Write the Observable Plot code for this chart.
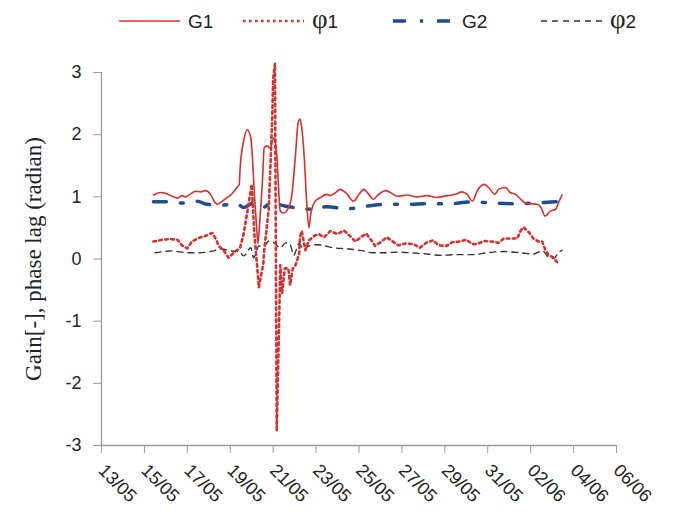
<!DOCTYPE html>
<html>
<head>
<meta charset="utf-8">
<script src="https://cdn.jsdelivr.net/npm/d3@7"></script>
<script src="https://cdn.jsdelivr.net/npm/@observablehq/plot@0.6"></script>
<style>
  html, body { margin: 0; padding: 0; background: #fff; }
  #wrap { width: 681px; height: 518px; position: relative; overflow: hidden; }
  #legend { width: 681px; height: 45px; position: relative; }
  #legend svg { position: absolute; left: 0; top: 0; }
</style>
</head>
<body>
<div id="wrap">
  <div id="legend"></div>
  <div id="chart"></div>
</div>
<script>
// ---- data (time stamps "MM-DD HH", year 2013) ----
const g1Times = ["05-15 10","05-15 18","05-16 01","05-16 07","05-16 13","05-16 18","05-16 22","05-17 03","05-17 09","05-17 15","05-17 20","05-18 02","05-18 06","05-18 10","05-18 15","05-18 21","05-19 02","05-19 08","05-19 10","05-19 11","05-19 15","05-19 19","05-19 23","05-20 01","05-20 03","05-20 05","05-20 07","05-20 09","05-20 12","05-20 14","05-20 17","05-20 21","05-20 23","05-21 01","05-21 04","05-21 06","05-21 08","05-21 12","05-21 17","05-21 21","05-22 01","05-22 04","05-22 06","05-22 08","05-22 11","05-22 13","05-22 16","05-22 18","05-22 23","05-23 05","05-23 12","05-23 16","05-23 22","05-24 03","05-24 09","05-24 18","05-25 00","05-25 05","05-25 11","05-25 16","05-25 22","05-26 06","05-26 11","05-26 19","05-27 06","05-27 17","05-28 04","05-28 15","05-29 03","05-29 12","05-29 19","05-30 01","05-30 07","05-30 12","05-30 20","05-31 01","05-31 08","05-31 12","05-31 20","06-01 01","06-01 07","06-01 13","06-01 18","06-02 00","06-02 07","06-02 12","06-02 16","06-02 22","06-03 04","06-03 07","06-03 11"];
const g1Values = [1.03,1.07,1.05,1.01,0.98,1.02,1.00,1.04,1.09,1.08,1.10,1.04,0.93,0.88,0.93,0.99,1.05,1.16,1.20,1.45,1.90,2.08,1.95,1.58,1.04,0.61,0.25,0.61,1.25,1.79,1.82,1.78,1.90,1.95,1.68,1.15,0.77,0.74,0.82,1.04,1.68,2.20,2.25,2.11,1.58,1.04,0.50,0.72,0.93,0.99,1.04,1.02,1.07,1.12,1.07,0.93,1.04,1.12,1.04,0.96,1.04,1.10,1.07,1.01,1.03,1.00,1.02,0.99,1.02,1.04,1.08,1.04,0.93,1.09,1.20,1.15,1.04,1.12,1.15,1.07,1.04,0.96,0.90,0.89,0.88,0.82,0.69,0.77,0.80,0.90,1.03];

const phi1Times = ["05-15 10","05-15 20","05-16 05","05-16 13","05-16 18","05-17 00","05-17 05","05-17 13","05-17 20","05-18 04","05-18 08","05-18 11","05-18 17","05-18 22","05-19 04","05-19 11","05-19 15","05-19 19","05-20 00","05-20 03","05-20 06","05-20 08","05-20 10","05-20 13","05-20 14","05-20 16","05-20 19","05-20 21","05-20 23","05-21 00","05-21 02","05-21 04","05-21 08","05-21 10","05-21 13","05-21 17","05-21 19","05-21 22","05-22 01","05-22 05","05-22 06","05-22 08","05-22 12","05-22 16","05-22 23","05-23 03","05-23 09","05-23 16","05-24 00","05-24 07","05-24 14","05-24 20","05-25 02","05-25 08","05-25 14","05-25 18","05-26 01","05-26 07","05-26 13","05-26 20","05-27 04","05-27 13","05-27 20","05-28 03","05-28 11","05-28 17","05-29 02","05-29 08","05-29 16","05-30 00","05-30 07","05-30 12","05-30 20","05-31 05","05-31 12","05-31 18","06-01 01","06-01 09","06-01 13","06-01 16","06-01 22","06-02 03","06-02 09","06-02 13","06-02 16","06-02 20","06-03 02","06-03 07"];
const phi1Values = [0.28,0.31,0.32,0.31,0.22,0.17,0.28,0.34,0.37,0.42,0.32,0.21,0.13,0.02,0.10,0.18,0.40,0.75,1.20,0.40,-0.10,-0.46,-0.30,-0.08,0.15,0.40,0.80,1.50,2.30,2.90,3.14,-2.77,-0.10,-0.55,-0.15,-0.15,-0.42,-0.15,-0.10,0.08,0.35,0.45,0.14,0.30,0.38,0.40,0.35,0.45,0.40,0.46,0.37,0.28,0.35,0.41,0.30,0.21,0.28,0.35,0.29,0.22,0.25,0.24,0.18,0.26,0.30,0.22,0.21,0.27,0.28,0.31,0.24,0.24,0.29,0.28,0.26,0.33,0.33,0.33,0.46,0.51,0.43,0.33,0.28,0.28,0.16,0.06,0.02,-0.08];

const g2Times = ["05-15 10","05-16 02","05-16 16","05-17 11","05-17 22","05-18 15","05-19 08","05-19 15","05-20 02","05-20 13","05-20 21","05-21 14","05-22 03","05-22 12","05-23 12","05-24 11","05-25 09","05-26 06","05-27 06","05-28 06","05-29 06","05-30 05","05-31 05","06-01 05","06-02 05","06-03 06","06-03 11"];
const g2Values = [0.92,0.92,0.90,0.93,0.88,0.87,0.88,0.83,0.90,0.83,0.90,0.85,0.82,0.80,0.84,0.81,0.85,0.88,0.88,0.89,0.89,0.92,0.90,0.89,0.90,0.92,0.92];

const phi2Times = ["05-15 12","05-16 07","05-17 00","05-17 13","05-18 02","05-18 15","05-19 00","05-19 10","05-19 15","05-19 23","05-20 02","05-20 08","05-20 14","05-20 19","05-21 01","05-21 08","05-21 14","05-21 19","05-21 23","05-22 05","05-22 10","05-22 16","05-23 01","05-23 20","05-24 13","05-25 05","05-25 15","05-26 04","05-26 19","05-27 10","05-28 04","05-28 19","05-29 14","05-30 08","05-30 23","05-31 18","06-01 13","06-02 03","06-02 13","06-02 20","06-03 02","06-03 07","06-03 11"];
const phi2Values = [0.10,0.13,0.10,0.10,0.12,0.16,0.13,0.12,0.05,0.18,0.02,0.21,0.21,0.29,0.26,0.18,0.26,0.23,0.06,0.25,0.15,0.21,0.23,0.18,0.16,0.13,0.10,0.10,0.11,0.10,0.08,0.06,0.07,0.07,0.10,0.12,0.10,0.08,0.13,0.03,0.01,0.10,0.14];

const xTickLabels = ["13/05","15/05","17/05","19/05","21/05","23/05","25/05","27/05","29/05","31/05","02/06","04/06","06/06"];
const yTicks = [-3,-2,-1,0,1,2,3];
const yLabel = "Gain[-], phase lag (radian)";

// ---- helpers ----
const parseT = s => {
  const [md, hm] = s.split(" ");
  const [m, d] = md.split("-").map(Number);
  const [h, mi] = (hm || "0").split(":").map(Number);
  return new Date(Date.UTC(2013, m - 1, d, h || 0, mi || 0));
};
const parseTick = s => {
  const [d, m] = s.split("/").map(Number);
  return new Date(Date.UTC(2013, m - 1, d));
};
const rows = (times, values) => times.map((t, i) => ({t: parseT(t), v: values[i]}));

const g1 = rows(g1Times, g1Values);
const phi1 = rows(phi1Times, phi1Values);
const g2 = rows(g2Times, g2Values);
const phi2 = rows(phi2Times, phi2Values);
const xTicks = xTickLabels.map(parseTick);
const xDomain = [xTicks[0], xTicks[xTicks.length - 1]];

const RED = "#d8302c";
const BLUE = "#1f4e8c";
const DARK = "#333333";
const AXIS = "#9a9a9a";
const DOT = "2.6,3.4";

// ---- legend (HTML/SVG above chart) ----
const legendItems = [
  {label: "G1", phi: false, stroke: RED, width: 1.6, dash: null, x: 119},
  {label: "1", phi: true, stroke: RED, width: 2.6, dash: DOT, x: 243},
  {label: "G2", phi: false, stroke: BLUE, width: 3.5, dash: "13,14,3,14", x: 393},
  {label: "2", phi: true, stroke: DARK, width: 1.4, dash: "6,5", x: 541}
];
const ls = d3.select("#legend").append("svg").attr("width", 681).attr("height", 45);
for (const it of legendItems) {
  ls.append("line").attr("x1", it.x).attr("x2", it.x + 61).attr("y1", 21).attr("y2", 21)
    .attr("stroke", it.stroke).attr("stroke-width", it.width)
    .attr("stroke-dasharray", it.dash);
  const t = ls.append("text").attr("x", it.x + 69).attr("y", 28)
    .attr("font-family", "Liberation Sans, Arial, sans-serif").attr("font-size", 19).attr("fill", "#222");
  if (it.phi) {
    t.append("tspan").attr("font-family", "Liberation Serif, serif").attr("font-size", 27).text("φ");
    t.append("tspan").text(it.label);
  } else {
    t.text(it.label);
  }
}

// ---- chart ----
const chart = Plot.plot({
  width: 681,
  height: 473,
  marginLeft: 101,
  marginRight: 65,
  marginTop: 27,
  marginBottom: 73,
  style: {fontFamily: "Liberation Sans, Arial, sans-serif", background: "#fff", overflow: "visible"},
  x: {type: "utc", domain: xDomain},
  y: {domain: [-3, 3]},
  marks: [
    Plot.ruleX([xDomain[0]], {y1: -3, y2: 3, stroke: AXIS, strokeWidth: 1.3}),
    Plot.ruleY([-3], {x1: xDomain[0], x2: xDomain[1], stroke: AXIS, strokeWidth: 1.3}),
    Plot.axisY({ticks: yTicks, tickSize: 8, tickPadding: 12, tickFormat: d => String(d), stroke: AXIS, fill: "#222", fontSize: 18, label: null}),
    Plot.axisX({ticks: xTicks, tickSize: 8, tickPadding: 14, tickRotate: 45, tickFormat: d3.utcFormat("%d/%m"), stroke: AXIS, fill: "#222", fontSize: 18, label: null}),
    Plot.text([yLabel], {frameAnchor: "left", textAnchor: "middle", dx: -68, rotate: -90, fontFamily: "Liberation Serif, Times New Roman, serif", fontSize: 23, fill: "#222", text: d => d}),
    Plot.line(phi2, {x: "t", y: "v", stroke: DARK, strokeWidth: 1.4, strokeDasharray: "6,5", curve: "monotone-x"}),
    Plot.line(g2, {x: "t", y: "v", stroke: BLUE, strokeWidth: 3.5, strokeDasharray: "13,14,3,14", curve: "monotone-x"}),
    Plot.line(phi1, {x: "t", y: "v", stroke: RED, strokeWidth: 2.6, strokeDasharray: DOT, curve: "linear"}),
    Plot.line(g1, {x: "t", y: "v", stroke: RED, strokeWidth: 1.6, curve: "monotone-x"})
  ]
});
document.getElementById("chart").appendChild(chart);
</script>
</body>
</html>
